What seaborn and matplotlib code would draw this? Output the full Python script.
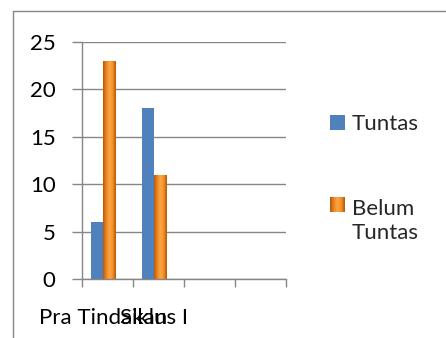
import matplotlib
matplotlib.use("Agg")
import matplotlib.pyplot as plt
import seaborn as sns
import pandas as pd
import numpy as np
from matplotlib.ticker import FixedLocator
from matplotlib.colors import LinearSegmentedColormap

categories = ["Pra Tindakan", "Siklus I"]
series_names = ["Tuntas", "Belum Tuntas"]
tuntas = [6, 18]
belum_tuntas = [23, 11]
yticks = [0, 5, 10, 15, 20, 25]

df = pd.DataFrame({
    "kategori": categories * 2,
    "seri": [series_names[0]] * len(categories) + [series_names[1]] * len(categories),
    "nilai": tuntas + belum_tuntas,
})

sns.set_theme(style="white")
plt.rcParams["font.family"] = ["Lato", "DejaVu Sans"]
FS = 16

W, H = 446, 338
fig = plt.figure(figsize=(W/100, H/100), dpi=100)
ax = fig.add_axes([82/W, 1 - 279/H, (286-82)/W, (279-42)/H])

blue = "#4F81BD"
orange = "#F38A20"
sns.barplot(data=df, x="kategori", y="nilai", hue="seri", order=categories,
            hue_order=series_names, palette=[blue, orange], width=0.48,
            ax=ax, legend=False, saturation=1)

orange_cmap = LinearSegmentedColormap.from_list(
    "bevel", ["#B4580A", "#EE8420", "#FBA747", "#F59128", "#B4580A"])
grad = np.linspace(0, 1, 64).reshape(1, -1)

for bar in ax.patches[:len(categories)]:
    bar.set_edgecolor("none")
for bar in ax.patches[len(categories):2*len(categories)]:
    x0, y0 = bar.get_x(), bar.get_y()
    w, h = bar.get_width(), bar.get_height()
    im = ax.imshow(grad, extent=[x0, x0 + w, y0, y0 + h], aspect="auto",
                   cmap=orange_cmap, zorder=bar.get_zorder(), interpolation="bilinear")
    im.set_clip_path(bar)
    bar.set_facecolor("none")
    bar.set_edgecolor("#A0500A")
    bar.set_linewidth(0.6)

shift = 0.09
ax.set_xlim(-0.5 + shift, 3.5 + shift)
ax.set_ylim(0, 25)
ax.set_aspect("auto")
ax.set_yticks(yticks)
ax.set_xticks(range(len(categories)))
ax.set_xticklabels(categories)
ax.xaxis.set_minor_locator(FixedLocator(np.arange(-0.5, 3.6, 1.0) + shift))

grid_c = "#868686"
ax.yaxis.grid(True, color=grid_c, linewidth=1.0)
ax.set_axisbelow(True)
for s in ["top", "right"]:
    ax.spines[s].set_visible(False)
for s in ["left", "bottom"]:
    ax.spines[s].set_color(grid_c)
    ax.spines[s].set_linewidth(1.0)

ax.tick_params(axis="y", which="major", left=True, length=7, width=1.0,
               color=grid_c, labelsize=FS, pad=12, labelcolor="black")
ax.tick_params(axis="x", which="major", bottom=False, labelsize=FS,
               pad=15, labelcolor="black")
ax.tick_params(axis="x", which="minor", bottom=True, length=6, width=1.0,
               color=grid_c)
ax.set_xlabel("")
ax.set_ylabel("")

# legend (handles + labels)
def fx(px):
    return px / W
def fy(py):
    return 1 - py / H

fig.patches.append(plt.Rectangle((fx(330), fy(130)), 15/W, 15/H, transform=fig.transFigure,
                                 facecolor=blue, edgecolor="none"))
lax = fig.add_axes([fx(330), fy(212), 15/W, 15/H])
lax.imshow(grad, aspect="auto", cmap=orange_cmap, interpolation="bilinear")
lax.set_axis_off()
fig.text(fx(352), fy(124), "Tuntas", fontsize=FS, va="center", ha="left")
fig.text(fx(352), fy(199), "Belum\nTuntas", fontsize=FS, va="top", ha="left",
         linespacing=1.25, transform=fig.transFigure)

# outer frame lines (top and left)
fig.add_artist(plt.Line2D([fx(13), 1], [fy(11), fy(11)],
                          transform=fig.transFigure, color=grid_c, linewidth=1.0))
fig.add_artist(plt.Line2D([fx(13), fx(13)], [0, fy(11)],
                          transform=fig.transFigure, color=grid_c, linewidth=1.0))

fig.savefig("out.png", dpi=100)
